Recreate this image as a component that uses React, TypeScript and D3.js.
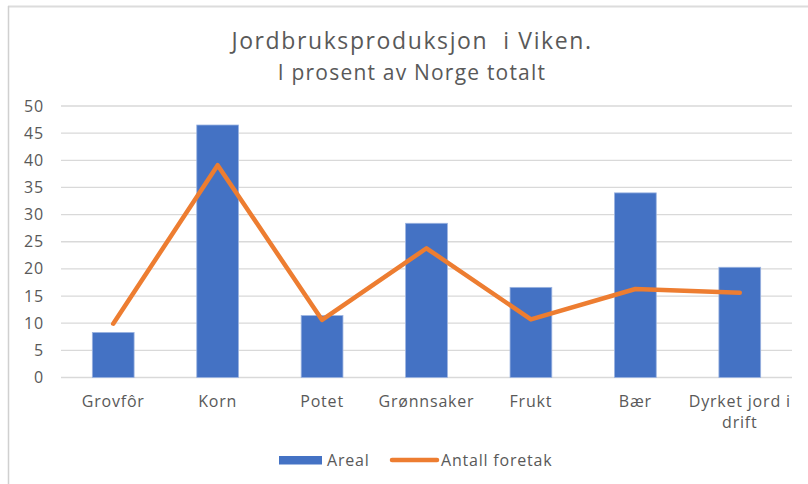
import React from "react";
import * as d3 from "d3";

const categories: string[][] = [
  ["Grovfôr"],
  ["Korn"],
  ["Potet"],
  ["Grønnsaker"],
  ["Frukt"],
  ["Bær"],
  ["Dyrket jord i", "drift"],
];
const areal = [8.3, 46.5, 11.4, 28.4, 16.6, 34.0, 20.3];
const antallForetak = [9.9, 39.1, 10.6, 23.8, 10.7, 16.3, 15.6];
const yTicks = [0, 5, 10, 15, 20, 25, 30, 35, 40, 45, 50];

const W = 808;
const H = 484;
const FONT = "'Open Sans', 'DejaVu Sans', sans-serif";
const BLUE = "#4472C4";
const ORANGE = "#ED7D31";
const TXT = "#595959";

export default function App() {
  const left = 61;
  const right = 792;
  const top = 106;
  const bottom = 377.5;
  const idx = categories.map((_, i) => i);
  const x = d3.scaleBand<number>().domain(idx).range([left, right]).paddingInner(0.6).paddingOuter(0.3);
  const xc = (i: number) => (x(i) as number) + x.bandwidth() / 2;
  const y = d3.scaleLinear().domain([0, 50]).range([bottom, top]);
  const line = d3
    .line<number>()
    .x((_, i) => xc(i))
    .y((d) => y(d));

  return (
    <div style={{ position: "absolute", left: 0, top: 0 }}>
      <svg width={W} height={H} style={{ display: "block", fontFamily: FONT }}>
        <rect x={0} y={0} width={W} height={H} fill="#fff" />
        <line x1={8} y1={6.5} x2={W} y2={6.5} stroke="#dcdcdc" strokeWidth={2} />
        <line x1={8.5} y1={6} x2={8.5} y2={H} stroke="#d0d0d0" strokeWidth={1.5} />
        <text x={412} y={49} textAnchor="middle" fontSize={23} letterSpacing={1.6} fill={TXT} style={{ whiteSpace: "pre" }}>
          {"Jordbruksproduksjon\u00A0 i Viken."}
        </text>
        <text x={412} y={80} textAnchor="middle" fontSize={21} letterSpacing={1.2} fill={TXT}>
          I prosent av Norge totalt
        </text>
        {yTicks.map((t) => (
          <g key={t}>
            <line x1={left} x2={right} y1={y(t)} y2={y(t)} stroke="#d9d9d9" strokeWidth={1.3} />
            <text x={44} y={y(t) + 5.5} textAnchor="end" fontSize={16} letterSpacing={0.8} fill={TXT}>
              {t}
            </text>
          </g>
        ))}
        {areal.map((v, i) => (
          <rect
            key={i}
            x={x(i)}
            y={y(v)}
            width={x.bandwidth()}
            height={y(0) - y(v)}
            fill={BLUE}
            stroke="#9bb3e0"
            strokeWidth={0.8}
          />
        ))}
        <path
          d={line(antallForetak) || ""}
          fill="none"
          stroke={ORANGE}
          strokeWidth={4.5}
          strokeLinecap="round"
          strokeLinejoin="round"
        />
        {categories.map((lines, i) => (
          <text key={i} x={xc(i)} y={407} textAnchor="middle" fontSize={16} letterSpacing={0.8} fill={TXT}>
            {lines.map((l, j) => (
              <tspan key={j} x={xc(i)} dy={j === 0 ? 0 : 21}>
                {l}
              </tspan>
            ))}
          </text>
        ))}
        <rect x={279} y={456} width={43} height={8.5} fill={BLUE} />
        <text x={327} y={466} fontSize={16} letterSpacing={0.8} fill={TXT}>
          Areal
        </text>
        <line x1={392} x2={437} y1={460} y2={460} stroke={ORANGE} strokeWidth={4.5} strokeLinecap="round" />
        <text x={441} y={466} fontSize={16} letterSpacing={0.8} fill={TXT}>
          Antall foretak
        </text>
      </svg>
    </div>
  );
}
